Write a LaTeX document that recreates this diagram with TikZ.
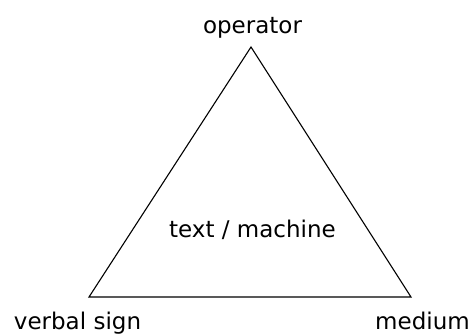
\documentclass[tikz,border=0pt]{standalone}
\usepackage{fontspec}
\setmainfont{DejaVu Sans}
\begin{document}
\begin{tikzpicture}[x=1pt,y=-1pt,
  lbl/.style={inner sep=0pt,anchor=base,font=\fontsize{23}{26}\selectfont},
  edge/.style={draw=black,line width=1.1pt,line join=miter}]
\useasboundingbox (0,0) rectangle (473,335);
\coordinate (top) at (251,47);
\coordinate (bl) at (89,297);
\coordinate (br) at (411,297);
\draw[edge] (top) -- (br) -- (bl) -- cycle;
\node[lbl] (op) at (252.5,33) {operator};
\node[lbl] (tm) at (252.5,237) {text / machine};
\node[lbl] (vs) at (77.5,329) {verbal sign};
\node[lbl] (md) at (422.5,329) {medium};
\end{tikzpicture}
\end{document}
